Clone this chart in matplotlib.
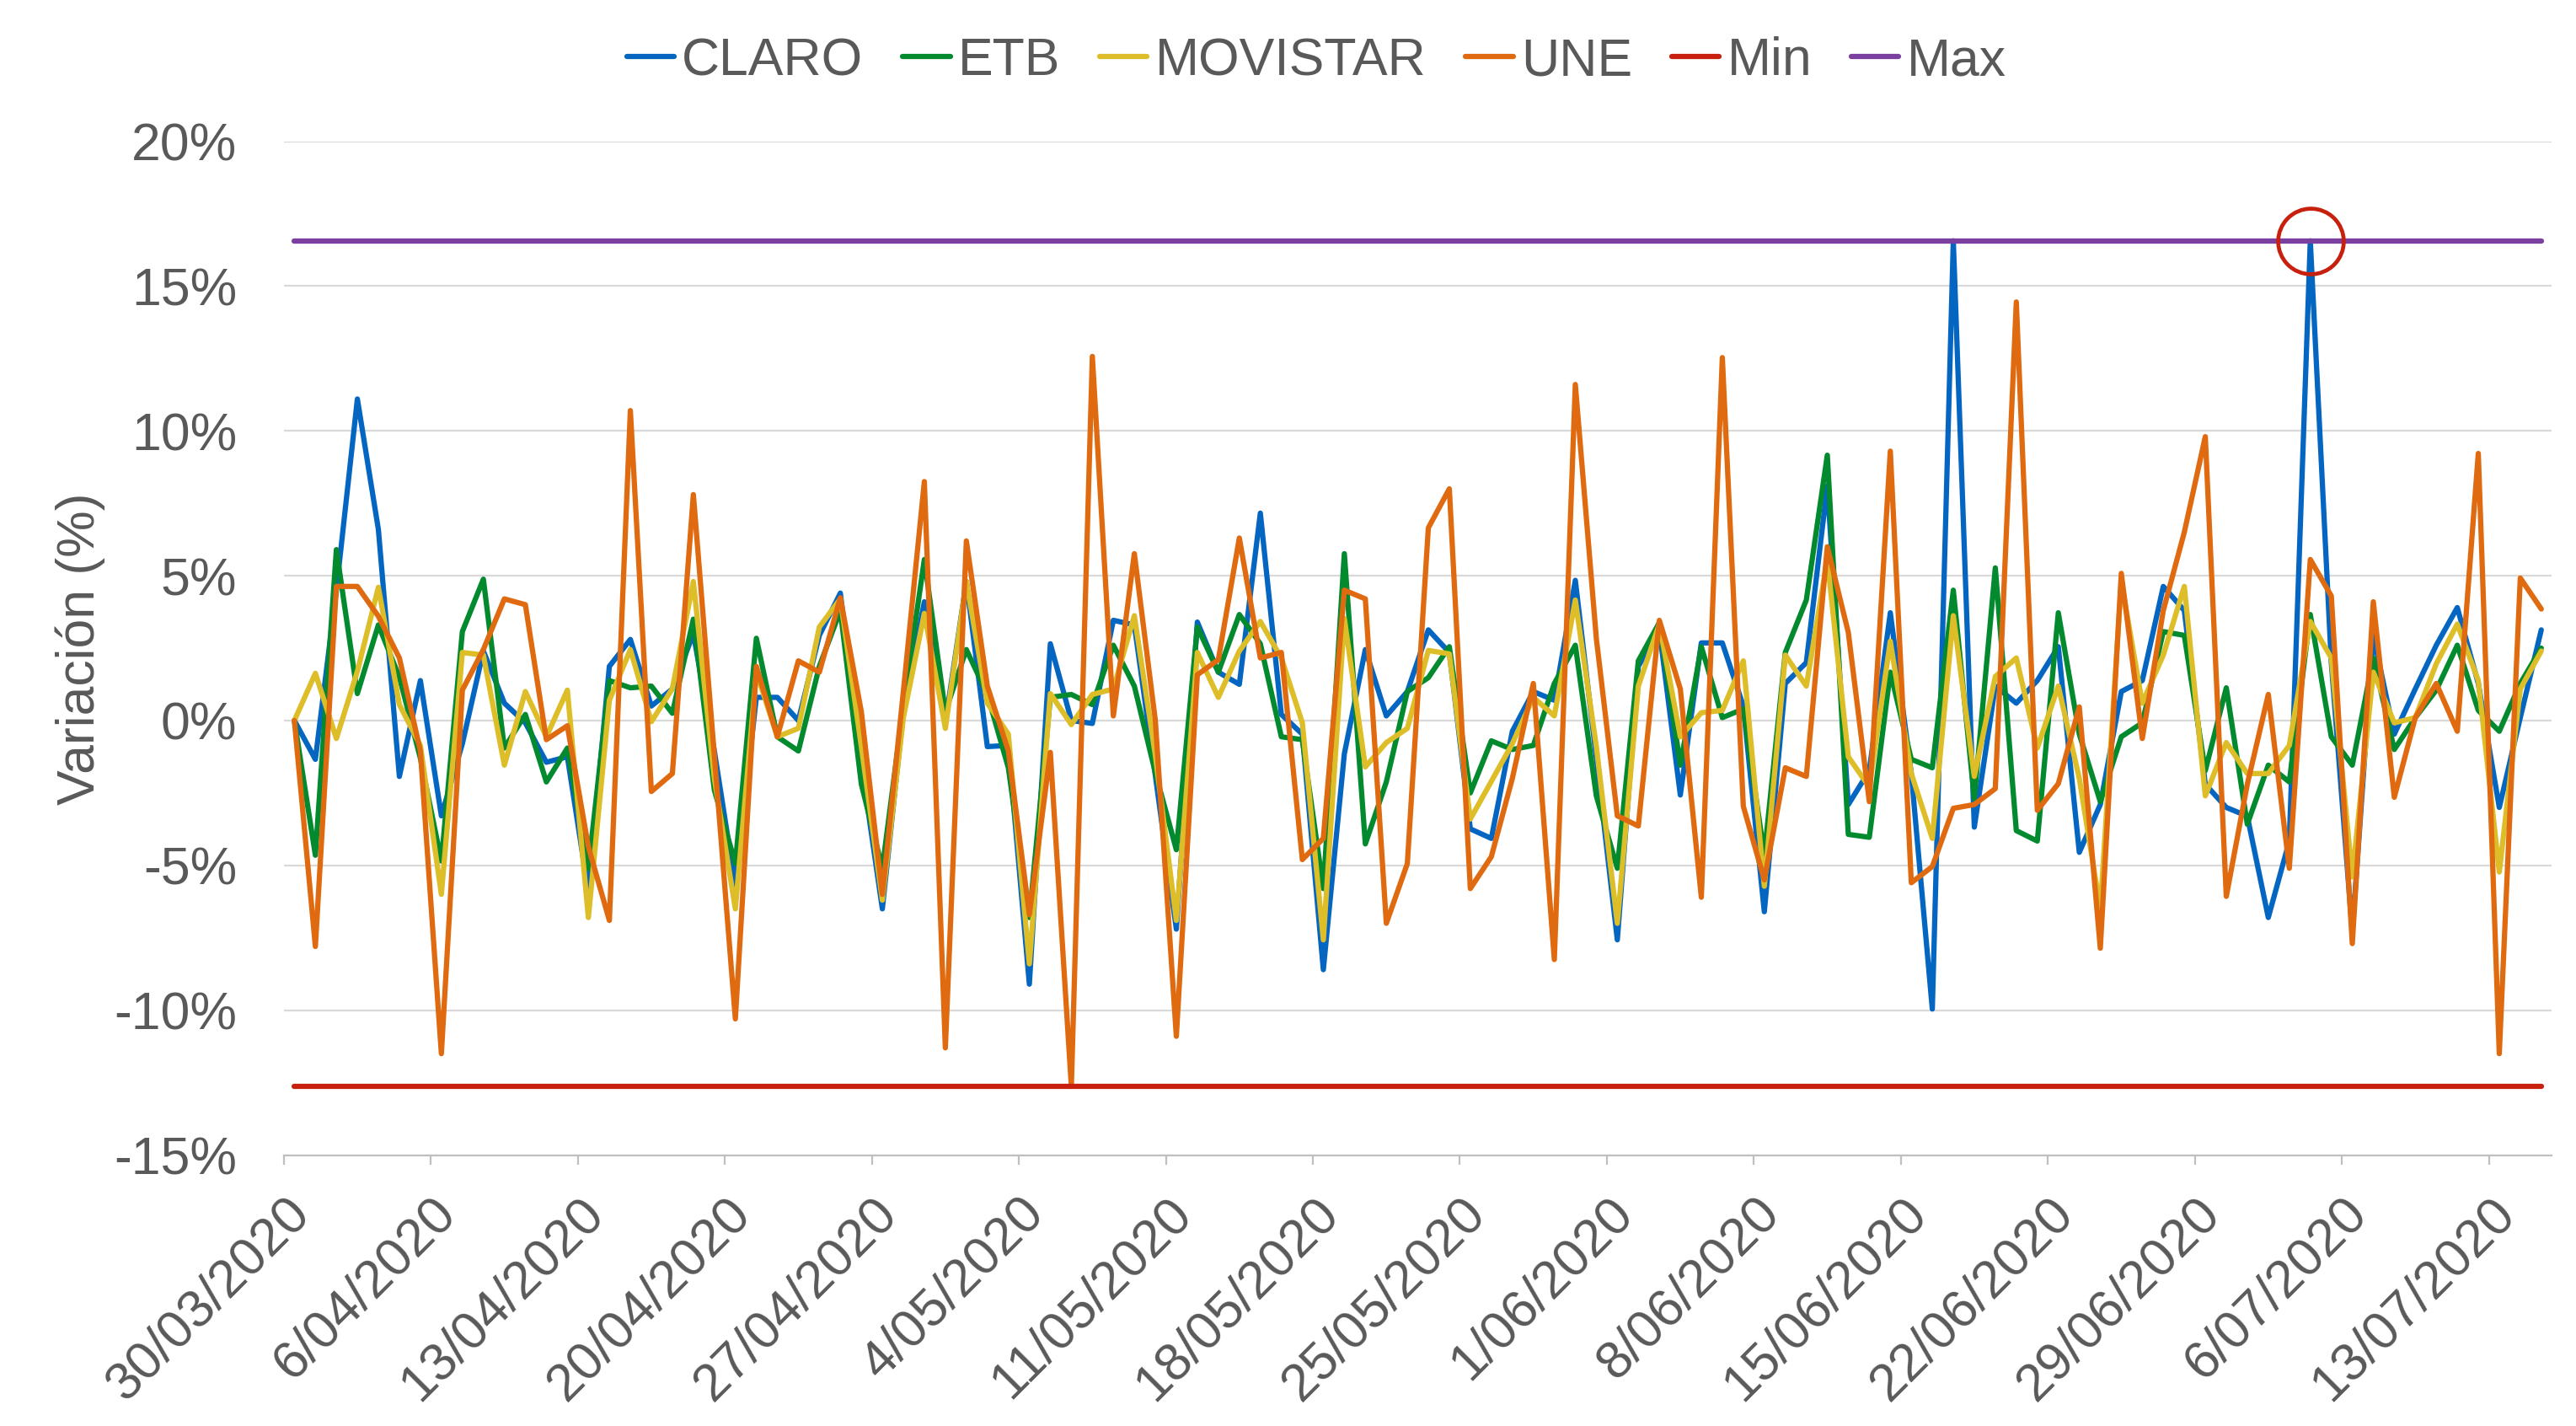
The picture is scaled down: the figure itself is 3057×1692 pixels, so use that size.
import matplotlib
matplotlib.use("Agg")
import matplotlib.pyplot as plt
import numpy as np
import pandas as pd

# ---------------- data ----------------
start_date = "2020-03-30"
n_days = 108

claro = [0.0, -1.34, 4.5, 11.1, 6.6, -1.93, 1.38, -3.29, -0.8, 2.4,
         0.6, -0.08, -1.44, -1.25, -5.9, 1.87, 2.8, 0.5, 1.09, 3.0,
         -1.05, -5.7, 0.8, 0.8, 0.0, 2.94, 4.4, -1.5, -6.5, 0.3,
         4.1, -0.08, 4.8, -0.9, -0.86, -9.1, 2.65, 0.0, -0.1, 3.46,
         3.3, -1.9, -7.2, 3.4, 1.67, 1.25, 7.16, 0.21, -0.47, -8.6,
         -1.15, 2.45, 0.16, 1.0, 3.13, 2.35, -3.74, -4.07, -0.37, 1.0,
         0.7, 4.84, -1.3, -7.57, 1.87, 3.13, -2.57, 2.68, 2.68, 0.5,
         -6.6, 1.28, 2.0, 8.1, -2.9, -1.73, 3.72, -1.83, -9.96, 16.56,
         -3.68, 1.19, 0.6, 1.38, 2.55, -4.55, -2.9, 1.0, 1.38, 4.63,
         3.8, -2.2, -3.0, -3.3, -6.8, -4.16, 16.56, 2.0, -7.3, 2.94,
         -0.47, 1.09, 2.6, 3.9, 1.28, -3.0, 0.1, 3.13]

etb = [0.0, -4.65, 5.9, 0.93, 3.3, 1.5, -1.3, -4.85, 3.07, 4.88,
       -0.95, 0.21, -2.12, -0.95, -5.1, 1.38, 1.13, 1.19, 0.25, 3.5,
       -2.4, -4.94, 2.84, -0.56, -1.05, 1.87, 3.8, -2.2, -5.1, 0.5,
       5.56, 0.3, 2.45, 0.9, -1.63, -6.8, 0.8, 0.9, 0.55, 2.6,
       1.19, -1.8, -4.46, 3.23, 1.67, 3.66, 2.65, -0.56, -0.66, -5.8,
       5.76, -4.26, -2.12, 1.0, 1.48, 2.55, -2.5, -0.7, -1.0, -0.86,
       1.28, 2.6, -2.6, -5.1, 2.06, 3.38, -1.54, 2.55, 0.1, 0.4,
       -4.65, 2.35, 4.16, 9.16, -3.93, -4.03, 1.67, -1.34, -1.63, 4.5,
       -2.7, 5.27, -3.8, -4.16, 3.72, -0.47, -2.8, -0.56, -0.08, 3.07,
       2.94, -1.73, 1.13, -3.58, -1.54, -2.12, 3.66, -0.56, -1.54, 2.16,
       -1.0, 0.1, 1.05, 2.6, 0.35, -0.37, 1.28, 2.5]

movistar = [0.0, 1.63, -0.62, 1.7, 4.6, 0.55, -0.86, -6.0, 2.35, 2.26,
            -1.54, 1.0, -0.56, 1.05, -6.8, 0.7, 2.45, -0.04, 1.1, 4.8,
            -2.0, -6.5, 1.67, -0.56, -0.27, 3.23, 4.2, -0.9, -6.2, 0.1,
            3.7, -0.27, 4.8, 0.6, -0.47, -8.4, 0.93, -0.14, 0.9, 1.09,
            3.62, -1.2, -6.9, 2.35, 0.8, 2.4, 3.42, 2.16, -0.08, -7.57,
            3.52, -1.6, -0.76, -0.27, 2.42, 2.3, -3.4, -2.1, -0.8, 0.8,
            0.16, 4.16, -0.9, -7.0, 1.19, 3.33, -0.56, 0.27, 0.35, 2.06,
            -5.72, 2.26, 1.19, 5.56, -1.25, -2.3, 2.74, -1.83, -4.07, 3.62,
            -1.93, 1.52, 2.16, -0.95, 1.19, -2.0, -6.5, 4.8, 0.6, 2.26,
            4.63, -2.6, -0.76, -1.83, -1.83, -0.86, 3.42, 2.16, -5.4, 1.67,
            -0.08, 0.1, 1.96, 3.33, 1.38, -5.23, 1.09, 2.4]

une = [0.0, -7.8, 4.63, 4.63, 3.6, 2.16, -1.05, -11.5, 1.05, 2.45,
       4.2, 4.0, -0.66, -0.18, -4.36, -6.9, 10.7, -2.45, -1.83, 7.8,
       -1.2, -10.3, 1.87, -0.56, 2.06, 1.67, 4.24, 0.3, -6.0, 1.0,
       8.25, -11.3, 6.2, 1.19, -1.05, -6.7, -1.1, -12.63, 12.57, 0.16,
       5.76, 0.0, -10.9, 1.58, 2.1, 6.3, 2.16, 2.35, -4.8, -4.07,
       4.5, 4.2, -7.0, -4.94, 6.65, 8.0, -5.8, -4.7, -2.0, 1.28,
       -8.25, 11.6, 2.84, -3.29, -3.64, 3.46, 1.09, -6.1, 12.53, -2.96,
       -5.5, -1.63, -1.93, 6.0, 3.04, -2.8, 9.3, -5.6, -5.04, -3.03,
       -2.9, -2.35, 14.45, -3.1, -2.18, 0.47, -7.86, 5.08, -0.62, 3.8,
       6.5, 9.8, -6.07, -2.2, 0.9, -5.1, 5.56, 4.3, -7.7, 4.1,
       -2.65, 0.1, 1.28, -0.37, 9.22, -11.5, 4.92, 3.85]

series_names = ["CLARO", "ETB", "MOVISTAR", "UNE"]
series_colors = ["#0566C1", "#038A2E", "#DDBD28", "#E06A10"]
min_color = "#C8200E"
max_color = "#7B3FA0"

tick_labels = ["30/03/2020", "6/04/2020", "13/04/2020", "20/04/2020", "27/04/2020",
               "4/05/2020", "11/05/2020", "18/05/2020", "25/05/2020", "1/06/2020",
               "8/06/2020", "15/06/2020", "22/06/2020", "29/06/2020", "6/07/2020",
               "13/07/2020"]
y_ticks = [-15, -10, -5, 0, 5, 10, 15, 20]

# ---------------- figure ----------------
plt.rcParams["font.family"] = ["Liberation Sans", "DejaVu Sans"]
text_color = "#595959"
fs = 45
lw = 4.5

dates = pd.date_range(start_date, periods=n_days, freq="D")
x = np.arange(n_days)

fig = plt.figure(figsize=(30.57, 16.92), dpi=100)
ax = fig.add_axes([0.1102, 0.19, 0.8804, 0.711])

all_series = [claro, etb, movistar, une]
handles = []
for name, vals, col in zip(series_names, all_series, series_colors):
    h, = ax.plot(x, vals, color=col, lw=lw, label=name, solid_joinstyle="round",
                 solid_capstyle="round")
    handles.append(h)

vmin = min(min(s) for s in all_series)
vmax = max(max(s) for s in all_series)
h, = ax.plot(x, [vmin] * n_days, color=min_color, lw=lw, label="Min", solid_capstyle="round")
handles.append(h)
h, = ax.plot(x, [vmax] * n_days, color=max_color, lw=lw, label="Max", solid_capstyle="round")
handles.append(h)

# highlight circle on the max point (last occurrence of the max of CLARO)
claro_arr = np.array(claro)
imax = int(np.where(claro_arr == claro_arr.max())[0][-1])
ax.plot([x[imax]], [claro_arr[imax]], marker="o", ms=56, mfc="none",
        mec=min_color, mew=3.4, zorder=10)

ax.set_xlim(-0.5, n_days - 0.5)
ax.set_ylim(-15, 20)
ax.set_yticks(y_ticks)
ax.set_yticklabels([f"{v}%" for v in y_ticks])

# Excel-style date axis: tick marks sit on the boundary before each date
tick_pos = [dates.get_loc(pd.to_datetime(lbl, format="%d/%m/%Y")) - 0.5 for lbl in tick_labels]
ax.set_xticks(tick_pos)
ax.set_xticklabels(tick_labels, rotation=45, ha="right", rotation_mode="anchor")

ax.grid(axis="y", color="#D9D9D9", lw=1.6)
ax.set_axisbelow(True)
for sp in ["top", "right", "left"]:
    ax.spines[sp].set_visible(False)
ax.spines["bottom"].set_color("#BFBFBF")
ax.spines["bottom"].set_linewidth(1.6)

ax.tick_params(axis="y", length=0, pad=40, labelsize=fs, labelcolor=text_color)
ax.tick_params(axis="x", length=8, width=1.6, color="#BFBFBF", pad=20,
               labelsize=fs, labelcolor=text_color, direction="out")

fig.text(0.031, 0.545, "Variación (%)", rotation=90, ha="center", va="center",
         fontsize=fs, color=text_color)

leg = fig.legend(handles=handles, loc="center", bbox_to_anchor=(0.511, 0.957), ncol=6,
                 frameon=False, fontsize=fs, handlelength=0.9, handletextpad=0.15,
                 columnspacing=0.75)
for t in leg.get_texts():
    t.set_color(text_color)

fig.savefig("out.png", dpi=100)
